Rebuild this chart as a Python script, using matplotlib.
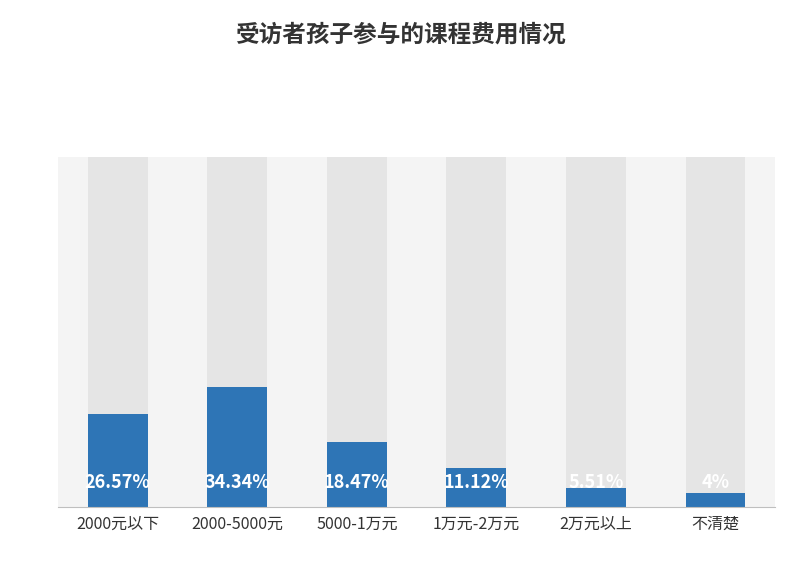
import matplotlib
matplotlib.use("Agg")
import matplotlib.pyplot as plt

categories = ["2000元以下", "2000-5000元", "5000-1万元", "1万元-2万元", "2万元以上", "不清楚"]
values = [26.57, 34.34, 18.47, 11.12, 5.51, 4]
labels = ["26.57%", "34.34%", "18.47%", "11.12%", "5.51%", "4%"]

plt.rcParams["font.family"] = ["Noto Sans CJK SC", "Noto Sans CJK JP", "Noto Sans CJK TC",
                               "Noto Sans CJK KR", "DejaVu Sans"]
fig = plt.figure(figsize=(8, 5.75), dpi=100)
ax = fig.add_axes([0.0725, 0.118, 0.8965, 0.609])
ax.set_facecolor("#f4f4f4")
x = list(range(len(categories)))
ax.bar(x, [100]*len(x), width=0.5, color="#e5e5e5", zorder=1)
ax.bar(x, values, width=0.5, color="#2e75b6", zorder=2)
for xi, lab in zip(x, labels):
    ax.text(xi, 7, lab, ha="center", va="center", color="white",
            fontsize=13, fontweight="bold", zorder=3, fontstretch="condensed")
ax.set_xlim(-0.5, 5.5)
ax.set_ylim(0, 100)
ax.set_yticks([])
ax.set_xticks(x)
ax.set_xticklabels(categories, fontsize=11.5, color="#333333")
ax.tick_params(axis="x", length=0, pad=6)
for s in ["top", "right", "left"]:
    ax.spines[s].set_visible(False)
ax.spines["bottom"].set_color("#bfbfbf")
fig.text(0.5, 0.94, "受访者孩子参与的课程费用情况", ha="center", va="center",
         fontsize=17, fontweight="bold", color="#333333")
fig.savefig("out.png", dpi=100)
